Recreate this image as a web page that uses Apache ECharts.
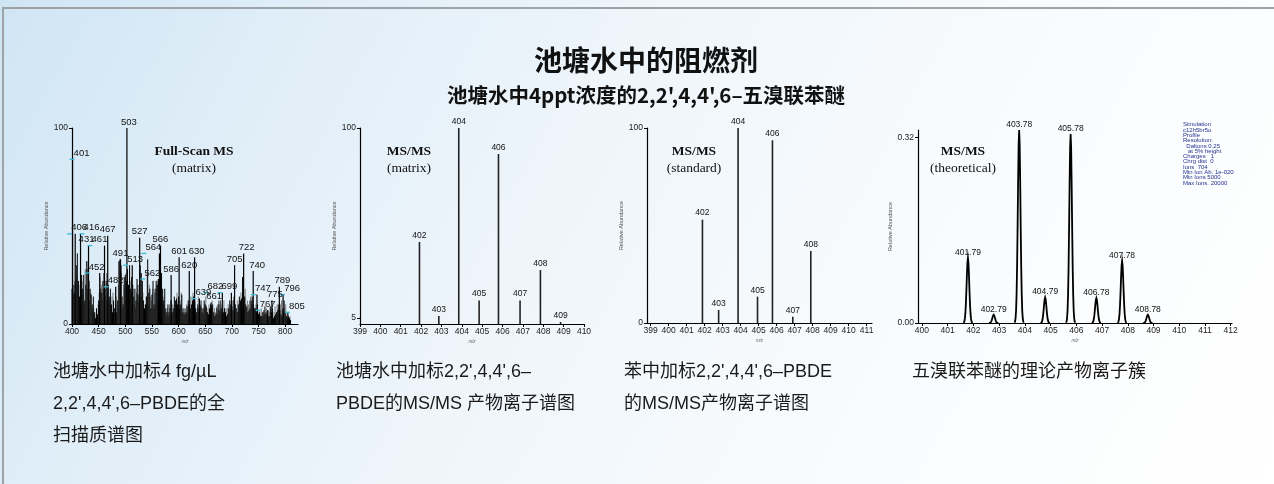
<!DOCTYPE html>
<html>
<head>
<meta charset="utf-8">
<script src="https://cdn.jsdelivr.net/npm/echarts@6/dist/echarts.min.js"></script>
<style>
  html, body { margin: 0; padding: 0; width: 1274px; height: 484px; overflow: hidden; }
  body { background: linear-gradient(118deg, #d0e5f4 0%, #e0eef8 20%, #eef5fb 42%, #f8fbfd 68%, #ffffff 100%); position: relative; }
  #frame { position: absolute; left: 2px; top: 7px; width: 1300px; height: 520px; border-top: 2px solid #9ea3a8; border-left: 2px solid #9ea3a8; }
  #chart { position: absolute; left: 0; top: 0; width: 1274px; height: 484px; }
</style>
</head>
<body>
<div id="frame"></div>
<div id="chart"></div>
<script>
// ---- Full-scan spectrum of spiked pond water (m/z 400-810) ----
// labelled peaks: [m/z, relative abundance %]
const fullScanPeaks = [
  [401, 85], [406, 46], [416, 46], [431, 40], [452, 26], [461, 40], [467, 45],
  [482, 19], [491, 33], [503, 100], [513, 30], [527, 44], [562, 23], [564, 36],
  [566, 40], [586, 25], [601, 34], [620, 27], [630, 34], [639, 13], [661, 11],
  [682, 16], [699, 16], [705, 30], [722, 36], [740, 27], [747, 15], [767, 7],
  [775, 12], [789, 19], [796, 15], [805, 6]
];
// unlabelled matrix ions, even m/z from 400 to 810
const fullScanEvenStart = 400;
const fullScanEven = [
  18, 20, 16, 22, 30,  36, 22, 14, 20, 25,  18, 25, 12, 20, 32,  28, 22, 18, 15, 10,
  14, 6, 3, 8, 5,      12, 10, 18, 16, 22,  26, 18, 22, 12, 20,  14, 18, 10, 6, 12,
  8, 10, 6, 12, 32,    33, 30, 14, 10, 24,  25, 22, 28, 20, 30,  18, 24, 20, 14, 18,
  12, 23, 15, 20, 30,  26, 22, 12, 8, 10,   14, 33, 16, 18, 8,   15, 22, 10, 18, 22,
  20, 12, 18, 22, 26,  18, 12, 18, 8, 6,    10, 6, 8, 12, 6,     8, 14, 12, 13, 10,
  14, 8, 10, 15, 6,    8, 5, 6, 9, 12,      10, 8, 10, 12, 14,   10, 8, 6, 10, 8,
  12, 9, 6, 8, 12,     10, 9, 6, 5, 8,      10, 9, 10, 6, 4,     5, 8, 10, 7, 12,
  8, 5, 6, 8, 6,       4, 5, 8, 12, 10,     12, 7, 14, 10, 8,    6, 10, 14, 12, 13,
  24, 12, 14, 10, 9,   6, 7, 8, 12, 14,     10, 8, 8, 6, 10,     5, 6, 4, 4, 6,
  7, 9, 5, 6, 4,       4, 9, 6, 8, 3,       4, 5, 6, 7, 10,      7, 5, 4, 8, 12,
  6, 4, 3, 4, 3,       2
];
// unlabelled matrix ions, odd m/z from 401 to 809
const fullScanOddStart = 401;
const fullScanOdd = [
  12, 15, 20, 14, 24,  18, 20, 12, 10, 22,  15, 10, 28, 32, 18,  20, 12, 16, 8, 6,
  8, 4, 6, 3, 10,      16, 24, 20, 12, 18,  20, 14, 26, 16, 12,  10, 8, 14, 16, 6,
  5, 14, 12, 20, 32,   30, 26, 8, 20, 18,   26, 16, 20, 14, 22,  16, 12, 18, 10, 8,
  16, 20, 12, 26, 14,  14, 16, 10, 4, 14,   26, 10, 20, 14, 12,  18, 8, 16, 10, 20,
  22, 16, 24, 14, 10,  14, 10, 6, 4, 8,     4, 10, 12, 5, 10,    6, 10, 8, 16, 12,
  10, 12, 16, 8, 5,    6, 8, 10, 6, 10,     12, 14, 6, 16, 10,   12, 6, 8, 14, 6,
  10, 12, 8, 5, 10,    14, 6, 8, 10, 6,     8, 12, 5, 8, 6,      9, 5, 12, 10, 6,
  10, 7, 12, 6, 8,     8, 10, 6, 8, 10,     9, 12, 6, 10, 8,     12, 8, 10, 16, 8,
  10, 13, 18, 8, 12,   10, 12, 14, 10, 12,  9, 7, 10, 8, 6,      7, 5, 8, 6, 4,
  5, 6, 8, 5, 7,       6, 8, 6, 4, 6,       9, 6, 10, 8, 12,     10, 12, 7, 6, 8,
  10, 5, 4, 3, 4
];
const fullScanLeaders = [401, 406, 416, 452, 461, 482, 513, 562, 564, 639, 682, 699, 747, 767, 796, 805];
const fullScanTicks = [400, 450, 500, 550, 600, 650, 700, 750, 800];

// ---- MS/MS of pond-water extract ----
const ms2MatrixMz = [401.92, 402.87, 403.85, 404.85, 405.80, 406.86, 407.86, 408.85];
const ms2MatrixAb = [43, 6, 100, 13.7, 87, 13.7, 29, 3];
const ms2MatrixTicks = [399, 400, 401, 402, 403, 404, 405, 406, 407, 408, 409, 410];

// ---- MS/MS of standard in benzene ----
const ms2StdMz = [401.88, 402.78, 403.86, 404.94, 405.77, 406.90, 407.90];
const ms2StdAb = [53, 6.7, 100, 13.5, 93.7, 3.2, 36.9];
const ms2StdTicks = [399, 400, 401, 402, 403, 404, 405, 406, 407, 408, 409, 410, 411];

// ---- theoretical product-ion cluster ----
const theoMz = [401.79, 402.79, 403.78, 404.79, 405.78, 406.78, 407.78, 408.78];
const theoAb = [0.112, 0.0143, 0.333, 0.044, 0.326, 0.043, 0.107, 0.0143];
const theoTicks = [400, 401, 402, 403, 404, 405, 406, 407, 408, 409, 410, 411, 412];
const simNotes = [
  'Simulation', 'c12h5br5o', 'Profile', 'Resolution:', '  Daltons 0.25', '   at 5% height',
  'Charges   1', 'Chrg dist  0', 'Ions  704', 'Min Ion Ab. 1e-020', 'Min Ions 5000', 'Max Ions. 20000'
];

const SANS = "'Liberation Sans', Arial, Helvetica, sans-serif";
const SERIF = "'Liberation Serif', 'Times New Roman', serif";
const CJK = "'Noto Sans CJK SC', 'Noto Sans', sans-serif";
const CAP = "'Liberation Sans', 'Noto Sans CJK SC', sans-serif";

// stick spectrum drawn through the axis scales
function sticks(gi, data, opt) {
  return {
    type: 'custom', xAxisIndex: gi, yAxisIndex: gi, silent: true, clip: false,
    data: data,
    z: opt.z || 2,
    renderItem: function (params, api) {
      const x = api.value(0), y = api.value(1);
      const top = api.coord([x, y]);
      const base = api.coord([x, opt.base]);
      const children = [{
        type: 'line',
        shape: { x1: top[0], y1: base[1], x2: top[0], y2: top[1] },
        style: { stroke: opt.color, lineWidth: opt.width }
      }];
      if (opt.label) {
        const key = Math.round(x);
        const off = (opt.offsets && opt.offsets[key]) || [0, 0];
        const lx = top[0] + off[0], ly = top[1] - opt.gap + off[1];
        children.push({
          type: 'text', x: lx, y: ly, z2: 5,
          style: { text: opt.label(x), fill: '#111', fontSize: opt.fontSize, fontFamily: SANS, align: 'center', verticalAlign: 'bottom' }
        });
        if (opt.leaders && opt.leaders.indexOf(key) >= 0) {
          const hw = opt.fontSize * 0.85;
          children.push({
            type: 'line', z2: 4,
            shape: { x1: lx - hw - 4, y1: ly + 1, x2: lx - hw + 1, y2: ly + 1 },
            style: { stroke: '#38bcd6', lineWidth: 1.3 }
          });
        }
      }
      return { type: 'group', children: children };
    }
  };
}

// profile peaks for the simulated cluster; width from the 0.25 Da @ 5 % resolution setting
const profileSigma = 0.125 / Math.sqrt(2 * Math.log(20));
function profile(gi, data) {
  return {
    type: 'custom', xAxisIndex: gi, yAxisIndex: gi, silent: true, clip: false,
    data: data,
    renderItem: function (params, api) {
      const c = api.value(0), h = api.value(1);
      const pts = [];
      for (let k = -9; k <= 9; k++) {
        const dx = k * 0.02;
        pts.push(api.coord([c + dx, h * Math.exp(-dx * dx / (2 * profileSigma * profileSigma))]));
      }
      const top = api.coord([c, h]);
      return {
        type: 'group', children: [
          { type: 'polyline', shape: { points: pts }, style: { stroke: '#000', lineWidth: 1.8, fill: null, lineJoin: 'miter' } },
          { type: 'text', x: top[0], y: top[1] - 1, style: { text: c.toFixed(2), fill: '#111', fontSize: 8.5, fontFamily: SANS, align: 'center', verticalAlign: 'bottom' } }
        ]
      };
    }
  };
}

function xAxis(gi, min, max, ticks) {
  return {
    type: 'value', gridIndex: gi, min: min, max: max,
    splitLine: { show: false },
    axisLine: { show: true, onZero: false, lineStyle: { color: '#000', width: 1.2 } },
    axisTick: { show: true, inside: false, length: 3, customValues: ticks, lineStyle: { color: '#000', width: 1 } },
    axisLabel: { show: true, customValues: ticks, margin: 3, fontSize: 8.5, color: '#222', fontFamily: SANS, hideOverlap: false },
    name: 'm/z', nameLocation: 'middle', nameGap: 15,
    nameTextStyle: { fontSize: 4.5, fontStyle: 'italic', color: '#666', fontFamily: SANS }
  };
}
function yAxis(gi, min, max, ticks, gap, fmt) {
  return {
    type: 'value', gridIndex: gi, min: min, max: max,
    splitLine: { show: false },
    axisLine: { show: true, onZero: false, lineStyle: { color: '#000', width: 1.2 } },
    axisTick: { show: true, inside: false, length: 3, customValues: ticks, lineStyle: { color: '#000', width: 1 } },
    axisLabel: { show: true, customValues: ticks, margin: 4, fontSize: 8.5, color: '#222', fontFamily: SANS, formatter: fmt },
    name: 'Relative Abundance', nameLocation: 'middle', nameGap: gap, nameRotate: 90,
    nameTextStyle: { fontSize: 5.5, color: '#555', fontFamily: SANS }
  };
}

const evenData = fullScanEven.map((v, i) => [fullScanEvenStart + 2 * i, v]);
const oddData = fullScanOdd.map((v, i) => [fullScanOddStart + 2 * i, v]);

function grid(left, top, width, height) {
  return { left: left, top: top, width: width, height: height, containLabel: false, outerBoundsMode: 'none', show: false };
}

function heading(cx, bold, sub) {
  return [
    { type: 'text', x: cx, y: 152, style: { text: bold, fontSize: 13.5, fontWeight: 'bold', fontFamily: SERIF, fill: '#111', align: 'center', verticalAlign: 'middle' } },
    { type: 'text', x: cx, y: 168, style: { text: sub, fontSize: 13.5, fontFamily: SERIF, fill: '#111', align: 'center', verticalAlign: 'middle' } }
  ];
}
function caption(x, text) {
  return { type: 'text', x: x, y: 356, style: { text: text, fontSize: 18, lineHeight: 32, fontFamily: CAP, fill: '#1a1a1a', align: 'left', verticalAlign: 'top' } };
}

const chart = echarts.init(document.getElementById('chart'), null, { renderer: 'canvas' });
chart.setOption({
  backgroundColor: 'transparent',
  animation: false,
  grid: [
    grid(72, 128, 226, 196),
    grid(360, 128, 224, 196),
    grid(647, 128, 225, 195),
    grid(918, 130, 314, 193)
  ],
  xAxis: [
    xAxis(0, 400, 824, fullScanTicks),
    xAxis(1, 399, 410, ms2MatrixTicks),
    xAxis(2, 398.8, 411.3, ms2StdTicks),
    xAxis(3, 399.85, 412.05, theoTicks)
  ],
  yAxis: [
    yAxis(0, 0, 100, [0, 100], 9),
    yAxis(1, 2, 100, [5, 100], 6),
    yAxis(2, 0, 100, [0, 100], 11),
    yAxis(3, 0, 0.333, [0, 0.32], 8, v => v.toFixed(2))
  ],
  series: [
    sticks(0, oddData, { base: 0, color: '#7a7a7a', width: 1, z: 1 }),
    sticks(0, evenData, { base: 0, color: '#000', width: 1, z: 2 }),
    sticks(0, fullScanPeaks, {
      base: 0, color: '#000', width: 1.2, z: 3, label: x => String(Math.round(x)), fontSize: 9.5, gap: 1,
      leaders: fullScanLeaders,
      offsets: { 401: [9, 2], 406: [4, 0], 416: [11, 0], 431: [-2, 0], 452: [-3, 0], 461: [-5, 0], 503: [2, 0], 513: [3, 0],
                 562: [-6, 0], 564: [-6, 0], 630: [2, 0], 639: [4, 0], 661: [3, 0], 682: [-7, 0], 699: [-2, 0], 722: [3, 0],
                 740: [4, 0], 747: [6, 0], 775: [3, 0], 789: [3, 0], 796: [9, 0], 805: [9, 0] }
    }),
    sticks(1, ms2MatrixMz.map((m, i) => [m, ms2MatrixAb[i]]), { base: 2, color: '#222', width: 1.6, label: x => String(Math.round(x)), fontSize: 8.5, gap: 2 }),
    sticks(2, ms2StdMz.map((m, i) => [m, ms2StdAb[i]]), { base: 0, color: '#222', width: 1.6, label: x => String(Math.round(x)), fontSize: 8.5, gap: 2 }),
    profile(3, theoMz.map((m, i) => [m, theoAb[i]]))
  ],
  graphic: [].concat(
    [
      { type: 'text', x: 646, y: 60, style: { text: '池塘水中的阻燃剂', fontSize: 28, fontWeight: 'bold', fontFamily: CJK, fill: '#111', align: 'center', verticalAlign: 'middle' } },
      { type: 'text', x: 646, y: 95, style: { text: "池塘水中4ppt浓度的2,2',4,4',6–五溴联苯醚", fontSize: 20.5, fontWeight: 'bold', fontFamily: CJK, fill: '#111', align: 'center', verticalAlign: 'middle' } },
      { type: 'text', x: 1183, y: 122, style: { text: simNotes.join('\n'), fontSize: 6, lineHeight: 5.3, fontFamily: SANS, fill: '#23328f', align: 'left', verticalAlign: 'top' } }
    ],
    heading(194, 'Full-Scan MS', '(matrix)'),
    heading(409, 'MS/MS', '(matrix)'),
    heading(694, 'MS/MS', '(standard)'),
    heading(963, 'MS/MS', '(theoretical)'),
    [
      caption(53, '池塘水中加标4 fg/µL\n2,2\',4,4\',6–PBDE的全\n扫描质谱图'),
      caption(336, '池塘水中加标2,2\',4,4\',6–\nPBDE的MS/MS 产物离子谱图'),
      caption(624, '苯中加标2,2\',4,4\',6–PBDE\n的MS/MS产物离子谱图'),
      caption(912, '五溴联苯醚的理论产物离子簇')
    ]
  )
});
</script>
</body>
</html>
